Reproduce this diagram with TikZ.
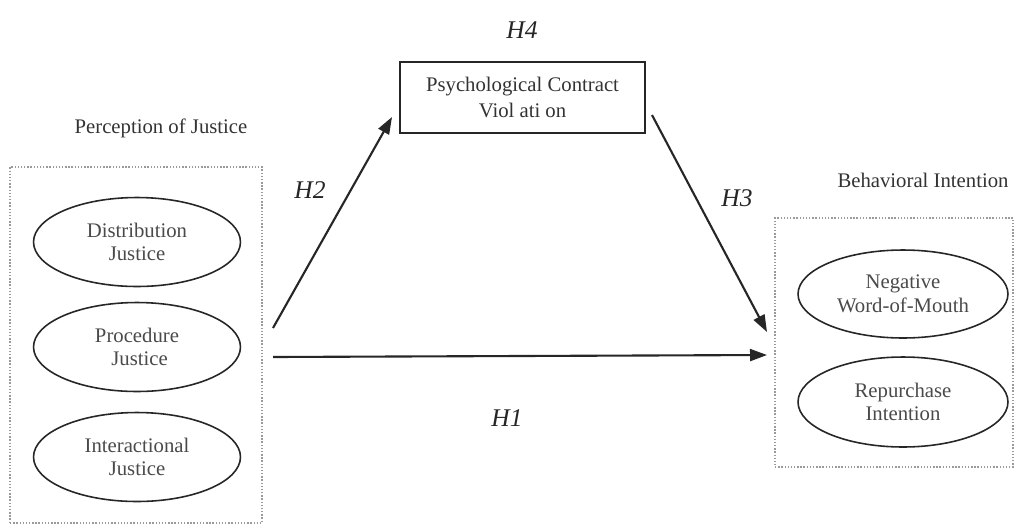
\documentclass[tikz,border=0pt]{standalone}
\usepackage{fontspec}
\setmainfont{Liberation Serif}
\usetikzlibrary{shapes.geometric,arrows.meta}
\definecolor{inkgray}{HTML}{4A4A4A}
\definecolor{framegray}{HTML}{9A9A9A}
\begin{document}
\begin{tikzpicture}[x=0.02cm,y=-0.02cm,
  construct/.style={ellipse,draw=black!85,line width=0.9pt,inner sep=0pt,
    minimum width=4.14cm,minimum height=1.78cm,align=center,text=inkgray,
    font=\fontsize{11.8}{13.5}\selectfont},
  groupbox/.style={draw=framegray,densely dotted,line width=0.8pt,inner sep=0pt},
  mediator/.style={draw=black!85,line width=0.9pt,inner sep=0pt,align=center,
    minimum width=4.9cm,minimum height=1.42cm,text=black!80,
    font=\fontsize{11.8}{14.5}\selectfont},
  grouptitle/.style={text=black!80,font=\fontsize{11.8}{13}\selectfont},
  hyp/.style={text=black!85,font=\fontsize{14.5}{16}\selectfont\itshape},
  path/.style={line width=1.2pt,draw=black!85,
    -{Triangle[length=0.34cm,width=0.24cm]}}]
\useasboundingbox (0,0) rectangle (1015,525);
\fill[white] (0,0) rectangle (1015,525);

% Perception of Justice group
\node[groupbox,minimum width=5.04cm,minimum height=7.12cm] (pj) at (136,345) {};
\node[grouptitle] (pjtitle) at (161,128) {Perception of Justice};
\node[construct] (dj) at (137,242) {Distribution\\Justice};
\node[construct] (prj) at (137,347) {Procedure\\\ Justice};
\node[construct] (ij) at (137,457) {Interactional\\Justice};

% Behavioral Intention group
\node[groupbox,minimum width=4.76cm,minimum height=4.98cm] (bi) at (894,342.5) {};
\node[grouptitle] (bititle) at (923,180) {Behavioral Intention};
\node[construct,minimum width=4.2cm,minimum height=1.76cm] (nwom) at (903,294) {Negative\\Word-of-Mouth};
\node[construct,minimum width=4.2cm,minimum height=1.8cm] (ri) at (903,402) {Repurchase\\Intention};

% Mediator
\node[mediator] (pcv) at (522.5,97.5) {Psychological Contract\\Viol ati on};
\node[hyp] (h4) at (522,30) {H4};

% Path end points
\coordinate (pjup) at (273,328);
\coordinate (pjright) at (273,357);
\coordinate (pcvin) at (392,117);
\coordinate (pcvout) at (652,115);
\coordinate (bidown) at (767,332);
\coordinate (biin) at (767,355);

\draw[path] (pjup) -- (pcvin);
\draw[path] (pcvout) -- (bidown);
\draw[path] (pjright) -- (biin);

\node[hyp] (h2) at (310,190) {H2};
\node[hyp] (h3) at (737,198) {H3};
\node[hyp] (h1) at (507,418) {H1};
\end{tikzpicture}
\end{document}
